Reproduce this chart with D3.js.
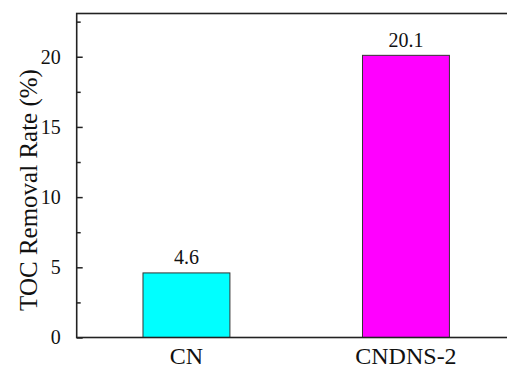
<!DOCTYPE html>
<html>
<head>
<meta charset="utf-8">
<script src="https://cdn.jsdelivr.net/npm/d3@7"></script>
<style>
  html, body { margin: 0; padding: 0; background: #fff; }
  svg { display: block; }
  text { font-family: 'Liberation Serif', 'Times New Roman', 'DejaVu Serif', serif; fill: #111; }
</style>
</head>
<body>
<svg id="chart" width="507" height="369"></svg>
<script>
// TOC removal rate per sample
const categories = ["CN", "CNDNS-2"];
const values = [4.6, 20.1];
const barColors = ["#00FFFF", "#FF00FF"];
const majorTicks = [0, 5, 10, 15, 20];
const minorTicks = [2.5, 7.5, 12.5, 17.5, 22.5];
const yTitle = "TOC Removal Rate (%)";

const serif = "'Liberation Serif', 'Times New Roman', 'DejaVu Serif', serif";
const svg = d3.select("#chart");
const plotLeft = 76.7, plotRight = 515.7, plotTop = 13.5, plotBottom = 337.5;

const x = d3.scaleBand()
  .domain(categories)
  .range([plotLeft, plotRight])
  .paddingInner(0.604)
  .paddingOuter(0.302);

const y = d3.scaleLinear()
  .domain([0, 23.08])
  .range([plotBottom, plotTop]);

// bars
svg.append("g")
  .selectAll("rect")
  .data(values)
  .join("rect")
  .attr("x", (d, i) => x(categories[i]))
  .attr("y", d => y(d))
  .attr("width", x.bandwidth())
  .attr("height", d => y(0) - y(d))
  .attr("fill", (d, i) => barColors[i])
  .attr("stroke", "#333")
  .attr("stroke-width", 1);

// value labels above bars
svg.append("g")
  .selectAll("text")
  .data(values)
  .join("text")
  .attr("x", (d, i) => x(categories[i]) + x.bandwidth() / 2)
  .attr("y", d => y(d) - 8.5)
  .attr("text-anchor", "middle")
  .style("font-family", serif)
  .style("font-size", "20px")
  .text(d => d.toFixed(1));

// left axis with inward ticks
const yAxis = d3.axisLeft(y)
  .tickValues(majorTicks)
  .tickSizeInner(-6)
  .tickSizeOuter(0)
  .tickPadding(16)
  .tickFormat(d3.format("d"));
const gy = svg.append("g")
  .attr("transform", `translate(${plotLeft},0)`)
  .call(yAxis);
gy.select(".domain").remove();
gy.selectAll(".tick line").attr("stroke", "#222").attr("stroke-width", 1.5);
gy.selectAll(".tick text")
  .style("font-family", serif)
  .style("font-size", "20px")
  .attr("fill", "#111");

const yMinor = d3.axisLeft(y)
  .tickValues(minorTicks)
  .tickSizeInner(-4)
  .tickSizeOuter(0)
  .tickFormat("");
const gm = svg.append("g")
  .attr("transform", `translate(${plotLeft},0)`)
  .call(yMinor);
gm.select(".domain").remove();
gm.selectAll(".tick line").attr("stroke", "#222").attr("stroke-width", 1.5);

// bottom category labels
const xAxis = d3.axisBottom(x).tickSize(0).tickPadding(9);
const gx = svg.append("g")
  .attr("transform", `translate(0,${plotBottom})`)
  .call(xAxis);
gx.select(".domain").remove();
gx.selectAll(".tick text")
  .style("font-family", serif)
  .style("font-size", "24px")
  .attr("fill", "#111");

// frame
svg.append("rect")
  .attr("x", plotLeft)
  .attr("y", plotTop)
  .attr("width", plotRight - plotLeft)
  .attr("height", plotBottom - plotTop)
  .attr("fill", "none")
  .attr("stroke", "#222")
  .attr("stroke-width", 1.6);

// y axis title
svg.append("text")
  .attr("transform", `translate(37,190) rotate(-90)`)
  .attr("text-anchor", "middle")
  .style("font-family", serif)
  .style("font-size", "25px")
  .text(yTitle);
</script>
</body>
</html>
